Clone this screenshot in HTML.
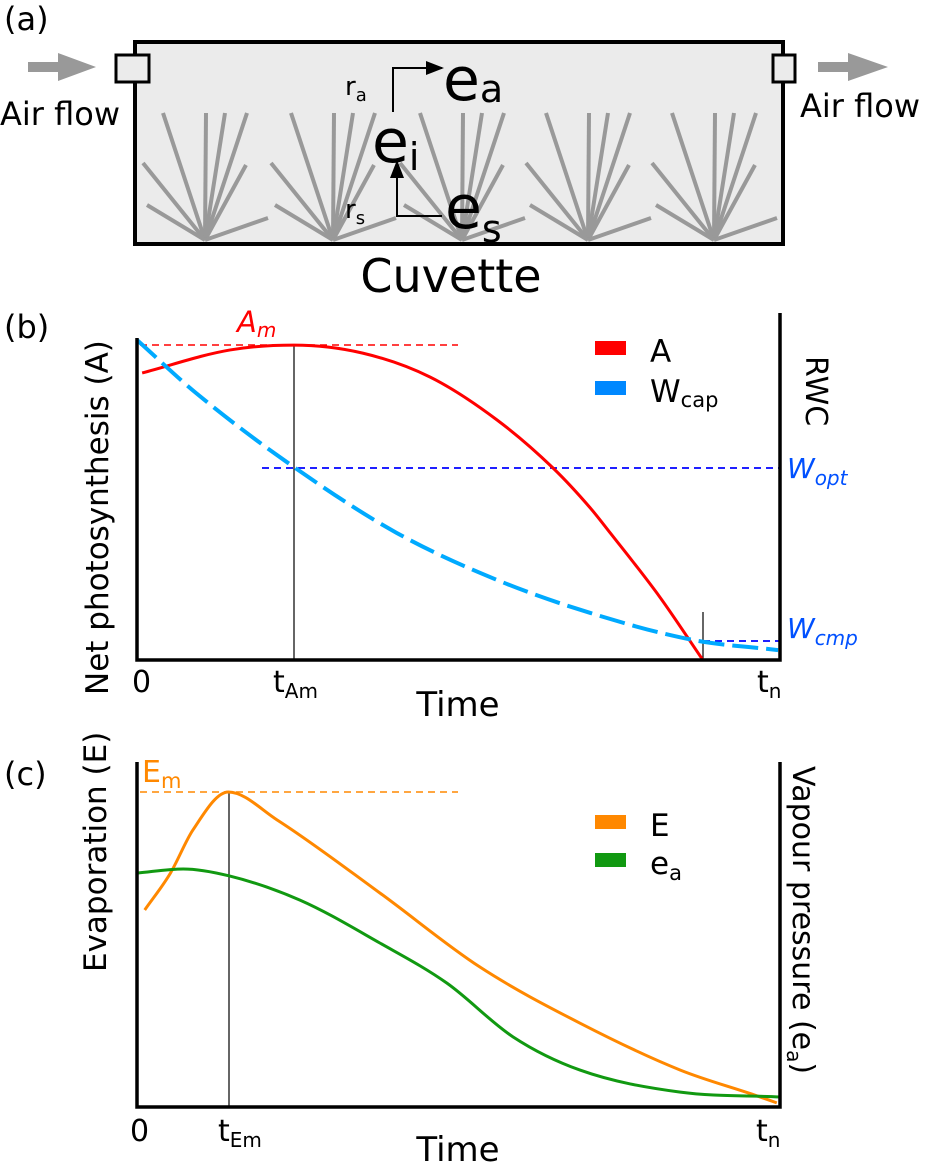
<!DOCTYPE html>
<html><head><meta charset="utf-8"><style>
body{margin:0;background:#fff}
svg{display:block;font-family:"DejaVu Sans","Liberation Sans",sans-serif}
</style></head><body>
<svg id="fig" width="926" height="1164" viewBox="0 0 926 1164" xmlns="http://www.w3.org/2000/svg">
<defs><marker id="ah" markerWidth="20" markerHeight="14" refX="16" refY="7" orient="auto" markerUnits="userSpaceOnUse"><path d="M0,0 L18,7 L0,14 z" fill="#000"/></marker></defs>
<!-- Panel a -->
<g>
<text x="4" y="30" font-size="32">(a)</text>
<rect x="135" y="42" width="648" height="202" fill="#ebebeb" stroke="#000" stroke-width="4"/>
<g id="plants"></g>
<rect x="116" y="55" width="33" height="27" fill="#ebebeb" stroke="#000" stroke-width="3"/>
<rect x="773" y="55" width="22" height="27" fill="#ebebeb" stroke="#000" stroke-width="3"/>
<path d="M28,62 H58 V53 L96,67 L58,81 V72 H28 z" fill="#999"/>
<path d="M818,62 H848 V53 L888,67 L848,81 V72 H818 z" fill="#999"/>
<text x="0" y="125" font-size="32">Air flow</text>
<text x="800" y="117" font-size="32">Air flow</text>
<path d="M393,112 V68 H442" fill="none" stroke="#000" stroke-width="2" marker-end="url(#ah)"/>
<path d="M442,216 H397 V162" fill="none" stroke="#000" stroke-width="2" marker-end="url(#ah)"/>
<text x="345" y="95" font-size="26">r<tspan font-size="18" dy="6">a</tspan></text>
<text x="345" y="218" font-size="26">r<tspan font-size="18" dy="6">s</tspan></text>
<text x="443" y="100" font-size="60">e<tspan font-size="38" dy="2">a</tspan></text>
<text x="372" y="162" font-size="60">e<tspan font-size="38" dy="8">i</tspan></text>
<text x="445" y="228" font-size="60">e<tspan font-size="38" dy="14">s</tspan></text>
<text x="451" y="292" font-size="46" text-anchor="middle">Cuvette</text>
</g>
<!-- Panel b -->
<g>
<text x="4" y="338" font-size="32">(b)</text>
<line x1="140" y1="345" x2="458" y2="345" stroke="#f00" stroke-width="1.5" stroke-dasharray="7,5"/>
<line x1="262" y1="468" x2="780" y2="468" stroke="#00f" stroke-width="1.8" stroke-dasharray="7,5"/>
<line x1="703" y1="641" x2="780" y2="641" stroke="#00f" stroke-width="1.8" stroke-dasharray="7,5"/>
<line x1="294" y1="345" x2="294" y2="660" stroke="#000" stroke-width="1.2"/>
<line x1="703" y1="612" x2="703" y2="660" stroke="#000" stroke-width="1.2"/>
<path id="curveA" fill="none" stroke="#f00" stroke-width="3"/>
<path id="curveW" fill="none" stroke="#0af" stroke-width="4" stroke-dasharray="26,8"/>
<path d="M137,338 V660 H780 V313" fill="none" stroke="#000" stroke-width="3.5"/>
<text x="237" y="332" font-size="29" fill="#f00" font-style="italic">A<tspan font-size="20" dy="5">m</tspan></text>
<text x="787" y="478" font-size="28" fill="#0050ff" font-style="italic">W<tspan font-size="20" dy="7">opt</tspan></text>
<text x="787" y="638" font-size="28" fill="#0050ff" font-style="italic">W<tspan font-size="20" dy="7">cmp</tspan></text>
<rect x="595" y="341" width="31" height="14" fill="#f00"/>
<text x="650" y="362" font-size="31">A</text>
<rect x="595" y="381" width="31" height="14" fill="#08f"/>
<text x="650" y="402" font-size="31">W<tspan font-size="21" dy="5">cap</tspan></text>
<text transform="translate(806,356) rotate(90)" font-size="30">RWC</text>
<text transform="translate(108,695) rotate(-90)" font-size="31">Net photosynthesis (A)</text>
<text x="132" y="692" font-size="30">0</text>
<text x="273" y="692" font-size="30">t<tspan font-size="20" dy="6">Am</tspan></text>
<text x="757" y="692" font-size="30">t<tspan font-size="20" dy="6">n</tspan></text>
<text x="458" y="716" font-size="34" text-anchor="middle">Time</text>
</g>
<!-- Panel c -->
<g>
<text x="4" y="785" font-size="32">(c)</text>
<line x1="140" y1="792" x2="458" y2="792" stroke="#f80" stroke-width="1.5" stroke-dasharray="7,5"/>
<line x1="229" y1="792" x2="229" y2="1107" stroke="#000" stroke-width="1.2"/>
<path id="curveE" fill="none" stroke="#f80" stroke-width="3"/>
<path id="curveEa" fill="none" stroke="#119911" stroke-width="3"/>
<path d="M137,762 V1107 H780 V762" fill="none" stroke="#000" stroke-width="3.5"/>
<text x="142" y="782" font-size="30" fill="#f80">E<tspan font-size="21" dy="6">m</tspan></text>
<rect x="595" y="815" width="31" height="14" fill="#f80"/>
<text x="650" y="836" font-size="31">E</text>
<rect x="595" y="853" width="31" height="14" fill="#119911"/>
<text x="650" y="874" font-size="31">e<tspan font-size="21" dy="6">a</tspan></text>
<text transform="translate(793,766) rotate(90)" font-size="30">Vapour pressure (e<tspan font-size="20" dy="6">a</tspan><tspan dy="-6">)</tspan></text>
<text transform="translate(106,972) rotate(-90)" font-size="31">Evaporation (E)</text>
<text x="130" y="1141" font-size="30">0</text>
<text x="218" y="1141" font-size="30">t<tspan font-size="20" dy="6">Em</tspan></text>
<text x="756" y="1141" font-size="30">t<tspan font-size="20" dy="6">n</tspan></text>
<text x="458" y="1161" font-size="34" text-anchor="middle">Time</text>
</g>
</svg>
<script>
const plantBases = [205, 333, 462, 588, 714];
const aTime = [0.008, 0.145, 0.244, 0.351, 0.456, 0.56, 0.647, 0.705, 0.736, 0.813, 0.88];
const aVal  = [0.897, 0.969, 0.984, 0.959, 0.884, 0.75, 0.6, 0.475, 0.397, 0.197, 0.0];
const wTime = [0.0, 0.092, 0.244, 0.404, 0.56, 0.705, 0.865, 0.997];
const wVal  = [1.0, 0.834, 0.603, 0.397, 0.25, 0.147, 0.0625, 0.031];
const eTime = [0.012, 0.052, 0.087, 0.142, 0.218, 0.378, 0.533, 0.689, 0.845, 0.96, 0.995];
const eVal  = [0.571, 0.678, 0.803, 0.913, 0.832, 0.62, 0.406, 0.243, 0.107, 0.035, 0.012];
const gTime = [0.0, 0.072, 0.143, 0.253, 0.378, 0.482, 0.585, 0.689, 0.845, 1.0];
const gVal  = [0.678, 0.69, 0.67, 0.6, 0.475, 0.359, 0.203, 0.107, 0.043, 0.029];

const xB = t => 137 + t * 643, yB = v => 660 - v * 320;
const xC = t => 137 + t * 643, yC = v => 1107 - v * 345;
function monotone(ts, vs, fx, fy) {
  const n = ts.length, d = [], m = [];
  for (let i = 0; i < n - 1; i++) d.push((vs[i + 1] - vs[i]) / (ts[i + 1] - ts[i]));
  m[0] = d[0]; m[n - 1] = d[n - 2];
  for (let i = 1; i < n - 1; i++) m[i] = (d[i - 1] * d[i] <= 0) ? 0 : (d[i - 1] + d[i]) / 2;
  for (let i = 0; i < n - 1; i++) {
    if (d[i] === 0) { m[i] = 0; m[i + 1] = 0; continue; }
    const a = m[i] / d[i], b = m[i + 1] / d[i], s = a * a + b * b;
    if (s > 9) { const k = 3 / Math.sqrt(s); m[i] = k * a * d[i]; m[i + 1] = k * b * d[i]; }
  }
  let path = 'M' + fx(ts[0]) + ',' + fy(vs[0]);
  for (let i = 0; i < n - 1; i++) {
    const h = (ts[i + 1] - ts[i]) / 3;
    path += ' C' + fx(ts[i] + h) + ',' + fy(vs[i] + m[i] * h) + ' ' + fx(ts[i + 1] - h) + ',' + fy(vs[i + 1] - m[i + 1] * h) + ' ' + fx(ts[i + 1]) + ',' + fy(vs[i + 1]);
  }
  return path;
}
document.getElementById('curveA').setAttribute('d', monotone(aTime, aVal, xB, yB));
document.getElementById('curveW').setAttribute('d', monotone(wTime, wVal, xB, yB));
document.getElementById('curveE').setAttribute('d', monotone(eTime, eVal, xC, yC));
document.getElementById('curveEa').setAttribute('d', monotone(gTime, gVal, xC, yC));

const leafDx = [-42, 1, 20, 42, -62, 41, -58, 63];
const leafDy = [-127, -127, -127, -127, -77, -75, -35, -22];
const g = document.getElementById('plants');
const NS = 'http://www.w3.org/2000/svg';
plantBases.forEach((bx) => {
  const pl = document.createElementNS(NS, 'g');
  
  
  leafDx.forEach((dx, i) => {
    const l = document.createElementNS(NS, 'line');
    l.setAttribute('x1', bx); l.setAttribute('y1', 240);
    l.setAttribute('x2', bx + dx); l.setAttribute('y2', 240 + leafDy[i]);
    l.setAttribute('stroke', '#999'); l.setAttribute('stroke-width', '4');
    
    
    pl.appendChild(l);
  });
  g.appendChild(pl);
});
</script>
</body></html>
